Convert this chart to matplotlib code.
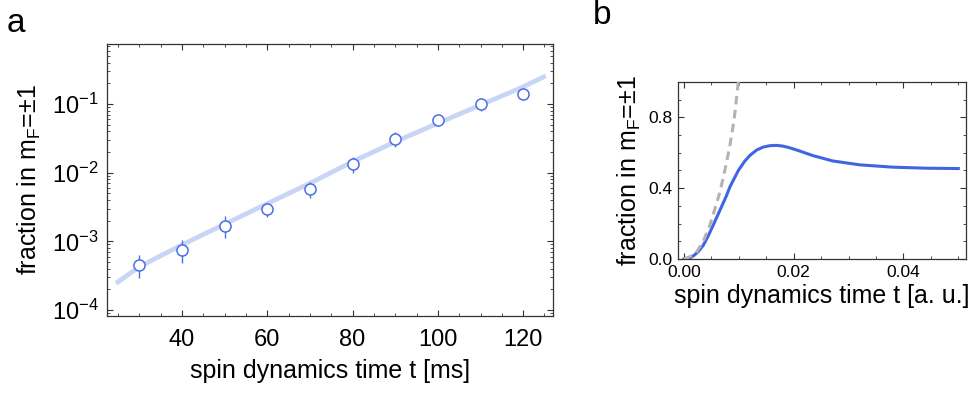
import numpy as np
import matplotlib
matplotlib.use("Agg")
import matplotlib.pyplot as plt
from matplotlib.ticker import MultipleLocator, LogLocator, NullFormatter

plt.rcParams['font.family'] = ['Liberation Sans', 'DejaVu Sans']
plt.rcParams['mathtext.fontset'] = 'custom'
plt.rcParams['mathtext.rm'] = 'Liberation Sans'
plt.rcParams['mathtext.default'] = 'regular'

# panel a: measured fraction vs time (ms)
t_meas = [30, 40, 50, 60, 70, 80, 90, 100, 110, 120]
frac_meas = [4.6e-4, 7.6e-4, 1.7e-3, 3.0e-3, 5.8e-3, 1.36e-2, 3.14e-2, 5.9e-2, 9.9e-2, 0.138]
frac_lo = [2.9e-4, 4.8e-4, 1.12e-3, 2.3e-3, 4.25e-3, 1.0e-2, 2.4e-2, 4.8e-2, 7.8e-2, 0.128]
frac_hi = [6.3e-4, 1.03e-3, 2.33e-3, 3.6e-3, 7.2e-3, 1.7e-2, 3.9e-2, 7.0e-2, 0.11, 0.15]

# fitted curve
t_fit = [24.5, 30, 40, 50, 60, 70, 80, 90, 100, 110, 120, 125.3]
frac_fit = [2.45e-4, 4.27e-4, 8.9e-4, 1.78e-3, 3.55e-3, 7.0e-3, 1.45e-2, 2.82e-2, 5.25e-2, 9.66e-2, 0.178, 0.257]

# panel b: simulated dynamics (a. u.)
t_sim = [0, 0.0012, 0.0018, 0.0026, 0.0035, 0.0044, 0.0053, 0.0061, 0.0069, 0.0077, 0.0084,
         0.0092, 0.0099, 0.0110, 0.0120, 0.0132, 0.0144, 0.0156, 0.0168, 0.0180, 0.0193,
         0.0210, 0.0235, 0.0271, 0.032, 0.038, 0.0441, 0.05]
frac_sim = [0, 0.008, 0.02, 0.042, 0.077, 0.13, 0.19, 0.245, 0.30, 0.355, 0.41,
            0.458, 0.50, 0.55, 0.585, 0.615, 0.632, 0.640, 0.642, 0.638, 0.628,
            0.611, 0.584, 0.554, 0.532, 0.519, 0.513, 0.511]
t_early = [0, 0.002, 0.0035, 0.0047, 0.0056, 0.0066, 0.0075, 0.0083, 0.0091, 0.0099]
frac_early = [0, 0.025, 0.1, 0.19, 0.28, 0.385, 0.51, 0.63, 0.78, 1.0]

marker_blue = '#4a6fe3'
fit_blue = '#c8d5f5'
line_blue = '#3f66e0'
frame_col = '#333333'

fig = plt.figure(figsize=(9.8, 4.03), dpi=100)

def style_frame(ax):
    for s in ax.spines.values():
        s.set_color(frame_col)
        s.set_linewidth(0.9)
    ax.tick_params(which='both', direction='in', top=True, right=True, color=frame_col)
    ax.tick_params(which='major', length=4.5, width=0.8)
    ax.tick_params(which='minor', length=2.5, width=0.6)

# ---- panel a
ax1 = fig.add_axes([107/980, 1 - 316/403, 446/980, 272/403])
ax1.set_yscale('log')
ax1.plot(t_fit, frac_fit, color=fit_blue, lw=3.4, solid_capstyle='butt', zorder=1)
ax1.vlines(t_meas, frac_lo, frac_hi, color=marker_blue, lw=1.0, zorder=2)
ax1.plot(t_meas, frac_meas, 'o', ms=8, mfc='white', mec=marker_blue, mew=1.1, zorder=3)
ax1.set_xlim(22.4, 127.0)
ax1.set_ylim(10**-4.087, 10**-0.126)
ax1.xaxis.set_major_locator(MultipleLocator(20))
ax1.xaxis.set_minor_locator(MultipleLocator(5))
ax1.yaxis.set_major_locator(LogLocator(base=10, numticks=10))
ax1.yaxis.set_minor_locator(LogLocator(base=10, subs=np.arange(2, 10), numticks=10))
ax1.yaxis.set_minor_formatter(NullFormatter())
style_frame(ax1)
ax1.tick_params(which='major', labelsize=17)
ax1.tick_params(axis='x', which='major', pad=9)
ax1.tick_params(axis='y', which='major', pad=6)
ax1.set_xlabel('spin dynamics time t [ms]', fontsize=18, labelpad=6)
ax1.set_ylabel(r'fraction in m$_{\mathregular{F}}$=±1', fontsize=18, labelpad=6)

# ---- panel b
ax2 = fig.add_axes([678/980, 1 - 259/403, 288/980, 177/403])
ax2.plot(t_sim, frac_sim, color=line_blue, lw=2.2, zorder=2)
ax2.plot(t_early, frac_early, color='#b3b3b3', lw=2.2, dashes=(2.8, 1.8), zorder=3)
ax2.set_xlim(-0.0011, 0.0514)
ax2.set_ylim(0, 1.0)
ax2.xaxis.set_major_locator(MultipleLocator(0.02))
ax2.xaxis.set_minor_locator(MultipleLocator(0.005))
ax2.yaxis.set_major_locator(MultipleLocator(0.4))
ax2.yaxis.set_minor_locator(MultipleLocator(0.1))
ax2.xaxis.set_major_formatter(matplotlib.ticker.FormatStrFormatter('%.2f'))
ax2.yaxis.set_major_formatter(matplotlib.ticker.FormatStrFormatter('%.1f'))
style_frame(ax2)
ax2.tick_params(which='major', labelsize=12.5, pad=4)
ax2.set_xlabel('spin dynamics time t [a. u.]', fontsize=18, labelpad=3)
ax2.set_ylabel(r'fraction in m$_{\mathregular{F}}$=±1', fontsize=18, labelpad=4)

fig.text(7/980, 1 - 32/403, 'a', fontsize=24, ha='left', va='baseline')
fig.text(593/980, 1 - 24/403, 'b', fontsize=24, ha='left', va='baseline')

fig.savefig('out.png', dpi=100)
